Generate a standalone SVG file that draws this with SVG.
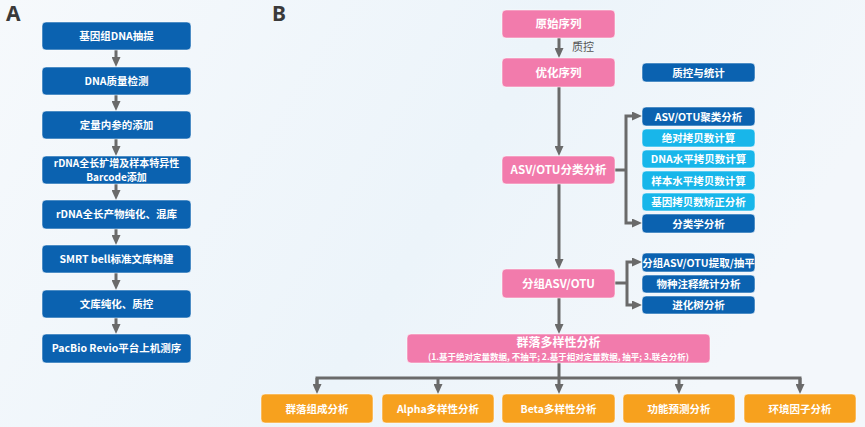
<svg xmlns="http://www.w3.org/2000/svg" width="865" height="427" viewBox="0 0 865 427">
<defs>
<linearGradient id="bg" x1="0" y1="0" x2="1" y2="0.3">
<stop offset="0" stop-color="#f6f9fc"/>
<stop offset="0.6" stop-color="#ecf4fa"/>
<stop offset="1" stop-color="#f3f7fb"/>
</linearGradient>
<marker id="ah" viewBox="0 0 10 9" refX="4" refY="4.5" markerWidth="10" markerHeight="9" markerUnits="userSpaceOnUse" orient="auto">
<path d="M0,0 L10,4.5 L0,9 z" fill="#6a6a6a"/>
</marker>
</defs>
<style>
.box{stroke:#ffffff;stroke-opacity:0.55;stroke-width:1}
.dblue{fill:#0b62b0}
.lblue{fill:#18b6ea}
.pink{fill:#f27bac}
.orange{fill:#f7a11e}
.t{font-family:"Noto Sans CJK SC","Noto Sans",sans-serif;font-weight:bold;fill:#ffffff;text-anchor:middle}
.a{font-size:10.5px}
.s{font-size:10.5px}
.o{font-size:10.5px}
.p{font-size:11.5px}
.lbl{font-family:"Noto Sans","Liberation Sans",sans-serif;font-weight:bold;font-size:21px;fill:#3a3a3a}
.q{font-family:"Noto Sans CJK SC",sans-serif;font-size:11px;fill:#555555}
.c{fill:none;stroke:#6a6a6a;stroke-width:3}
</style>
<rect width="865" height="427" fill="url(#bg)"/>
<text class="lbl" x="6" y="21">A</text>
<text class="lbl" x="272" y="21">B</text>

<g id="connectors">
<line class="c" x1="116" y1="50" x2="116" y2="61" marker-end="url(#ah)"/>
<line class="c" x1="116" y1="95" x2="116" y2="105" marker-end="url(#ah)"/>
<line class="c" x1="116" y1="139" x2="116" y2="150" marker-end="url(#ah)"/>
<line class="c" x1="116" y1="184" x2="116" y2="194" marker-end="url(#ah)"/>
<line class="c" x1="116" y1="229" x2="116" y2="239" marker-end="url(#ah)"/>
<line class="c" x1="116" y1="273" x2="116" y2="284" marker-end="url(#ah)"/>
<line class="c" x1="116" y1="318" x2="116" y2="328" marker-end="url(#ah)"/>
<line class="c" x1="559" y1="38" x2="559" y2="52" marker-end="url(#ah)"/>
<line class="c" x1="559" y1="87" x2="559" y2="150" marker-end="url(#ah)"/>
<line class="c" x1="559" y1="184" x2="559" y2="263" marker-end="url(#ah)"/>
<line class="c" x1="559" y1="298" x2="559" y2="328" marker-end="url(#ah)"/>
<line class="c" x1="615" y1="170" x2="626" y2="170"/>
<path class="c" d="M626,170 V116 H636" marker-end="url(#ah)"/>
<path class="c" d="M626,170 V223 H636" marker-end="url(#ah)"/>
<line class="c" x1="615" y1="283" x2="627" y2="283"/>
<path class="c" d="M627,283 V262 H636" marker-end="url(#ah)"/>
<path class="c" d="M627,283 V305 H636" marker-end="url(#ah)"/>
<line class="c" x1="559" y1="363" x2="559" y2="388" marker-end="url(#ah)"/>
<path class="c" d="M317,388 V378 H800 V388" />
<line class="c" x1="317" y1="378" x2="317" y2="388" marker-end="url(#ah)"/>
<line class="c" x1="438" y1="378" x2="438" y2="388" marker-end="url(#ah)"/>
<line class="c" x1="679" y1="378" x2="679" y2="388" marker-end="url(#ah)"/>
<line class="c" x1="800" y1="378" x2="800" y2="388" marker-end="url(#ah)"/>
<text class="q" x="572" y="51">质控</text>
</g>

<g id="a1"><rect class="box dblue" x="42" y="22" width="149" height="28" rx="4"/><text class="t a" x="116.5" y="40">基因组DNA抽提</text></g>
<g id="a2"><rect class="box dblue" x="42" y="67" width="149" height="28" rx="4"/><text class="t a" x="116.5" y="85">DNA质量检测</text></g>
<g id="a3"><rect class="box dblue" x="42" y="111" width="149" height="28" rx="4"/><text class="t a" x="116.5" y="129">定量内参的添加</text></g>
<g id="a4"><rect class="box dblue" x="42" y="156" width="149" height="28" rx="4"/><text class="t" font-size="10" x="116.5" y="167">rDNA全长扩增及样本特异性</text><text class="t" font-size="10" x="116.5" y="181">Barcode添加</text></g>
<g id="a5"><rect class="box dblue" x="42" y="200" width="149" height="29" rx="4"/><text class="t a" x="116.5" y="218">rDNA全长产物纯化、混库</text></g>
<g id="a6"><rect class="box dblue" x="42" y="245" width="149" height="28" rx="4"/><text class="t a" x="116.5" y="263">SMRT bell标准文库构建</text></g>
<g id="a7"><rect class="box dblue" x="42" y="290" width="149" height="28" rx="4"/><text class="t a" x="116.5" y="308">文库纯化、质控</text></g>
<g id="a8"><rect class="box dblue" x="42" y="334" width="149" height="29" rx="4"/><text class="t a" x="116.5" y="352">PacBio Revio平台上机测序</text></g>

<g id="raw"><rect class="box pink" x="502" y="10" width="113" height="28" rx="4"/><text class="t p" x="558.5" y="28">原始序列</text></g>
<g id="opt"><rect class="box pink" x="502" y="58" width="113" height="29" rx="4"/><text class="t p" x="558.5" y="76.5">优化序列</text></g>
<g id="qcstat"><rect class="box dblue" x="642" y="63" width="113" height="19" rx="4"/><text class="t s" x="698.5" y="76.5">质控与统计</text></g>
<g id="cls"><rect class="box pink" x="502" y="156" width="113" height="28" rx="4"/><text class="t p" x="558.5" y="174">ASV/OTU分类分析</text></g>
<g id="s1"><rect class="box dblue" x="642" y="107" width="113" height="19" rx="4"/><text class="t s" x="698.5" y="120.5">ASV/OTU聚类分析</text></g>
<g id="s2"><rect class="box lblue" x="642" y="129" width="113" height="18" rx="4"/><text class="t s" x="698.5" y="142">绝对拷贝数计算</text></g>
<g id="s3"><rect class="box lblue" x="642" y="150" width="113" height="18" rx="4"/><text class="t s" x="698.5" y="163">DNA水平拷贝数计算</text></g>
<g id="s4"><rect class="box lblue" x="642" y="171" width="113" height="19" rx="4"/><text class="t s" x="698.5" y="184.5">样本水平拷贝数计算</text></g>
<g id="s5"><rect class="box lblue" x="642" y="193" width="113" height="18" rx="4"/><text class="t s" x="698.5" y="206">基因拷贝数矫正分析</text></g>
<g id="s6"><rect class="box dblue" x="642" y="214" width="113" height="19" rx="4"/><text class="t s" x="698.5" y="227.5">分类学分析</text></g>
<g id="grp"><rect class="box pink" x="502" y="269" width="113" height="29" rx="4"/><text class="t p" x="558.5" y="287.5">分组ASV/OTU</text></g>
<g id="g1"><rect class="box dblue" x="642" y="253" width="113" height="19" rx="4"/><text class="t s" x="698.5" y="266.5">分组ASV/OTU提取/抽平</text></g>
<g id="g2"><rect class="box dblue" x="642" y="275" width="113" height="18" rx="4"/><text class="t s" x="698.5" y="288">物种注释统计分析</text></g>
<g id="g3"><rect class="box dblue" x="642" y="296" width="113" height="18" rx="4"/><text class="t s" x="698.5" y="309">进化树分析</text></g>
<g id="div"><rect class="box pink" x="407" y="334" width="303" height="29" rx="4"/><text class="t" font-size="12" x="558.5" y="347">群落多样性分析</text><text class="t" font-size="8.5" x="558.5" y="359.5">(1.基于绝对定量数据, 不抽平; 2.基于相对定量数据, 抽平; 3.联合分析)</text></g>
<g id="b1"><rect class="box orange" x="261" y="394" width="112" height="29" rx="4"/><text class="t o" x="317" y="412.5">群落组成分析</text></g>
<g id="b2"><rect class="box orange" x="382" y="394" width="112" height="29" rx="4"/><text class="t o" x="438" y="412.5">Alpha多样性分析</text></g>
<g id="b3"><rect class="box orange" x="502" y="394" width="113" height="29" rx="4"/><text class="t o" x="558.5" y="412.5">Beta多样性分析</text></g>
<g id="b4"><rect class="box orange" x="623" y="394" width="112" height="29" rx="4"/><text class="t o" x="679" y="412.5">功能预测分析</text></g>
<g id="b5"><rect class="box orange" x="744" y="394" width="112" height="29" rx="4"/><text class="t o" x="800" y="412.5">环境因子分析</text></g>
</svg>
